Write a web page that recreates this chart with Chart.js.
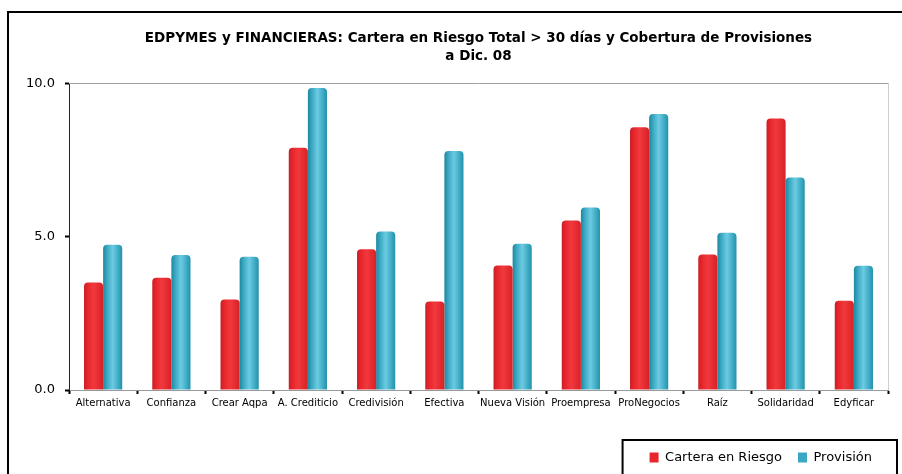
<!DOCTYPE html>
<html>
<head>
<meta charset="utf-8">
<script src="https://cdn.jsdelivr.net/npm/chart.js@4/dist/chart.umd.min.js"></script>
<style>
  html, body { margin: 0; padding: 0; background: #fff; overflow: hidden; }
  #wrap { width: 902px; height: 474px; position: relative; }
</style>
</head>
<body>
<div id="wrap"><canvas id="c" width="902" height="474"></canvas></div>
<script>
const categories = ['Alternativa', 'Confianza', 'Crear Aqpa', 'A. Crediticio', 'Credivisión', 'Efectiva',
  'Nueva Visión', 'Proempresa', 'ProNegocios', 'Raíz', 'Solidaridad', 'Edyficar'];
const carteraEnRiesgo = [3.51, 3.66, 2.95, 7.90, 4.59, 2.89, 4.06, 5.53, 8.57, 4.42, 8.86, 2.91];
const provision = [4.74, 4.40, 4.35, 9.85, 5.17, 7.80, 4.77, 5.95, 9.00, 5.13, 6.93, 4.05];
const yTicks = [0, 5, 10];
const seriesNames = ['Cartera en Riesgo', 'Provisión'];
const titleLines = ['EDPYMES y FINANCIERAS: Cartera en Riesgo Total > 30 días y Cobertura de Provisiones', 'a Dic. 08'];

const RED = ['#c81f26', '#e8262c', '#f0393d', '#e32a2f', '#d42228'];
const BLUE = ['#1d879e', '#3aa8c2', '#6ccbe2', '#3eaac4', '#2392ab'];

const cylinderPlugin = {
  id: 'cylinder',
  beforeDatasetsDraw(chart) {
    const ctx = chart.ctx;
    chart.data.datasets.forEach((ds, di) => {
      const meta = chart.getDatasetMeta(di);
      const stops = di === 0 ? RED : BLUE;
      meta.data.forEach(bar => {
        const p = bar.getProps(['x', 'width'], true);
        const g = ctx.createLinearGradient(p.x - p.width / 2, 0, p.x + p.width / 2, 0);
        g.addColorStop(0, stops[0]);
        g.addColorStop(0.2, stops[1]);
        g.addColorStop(0.5, stops[2]);
        g.addColorStop(0.8, stops[3]);
        g.addColorStop(1, stops[4]);
        bar.options.backgroundColor = g;
      });
    });
  }
};

const framePlugin = {
  id: 'frame',
  beforeDatasetsDraw(chart) {
    const ctx = chart.ctx;
    const a = chart.chartArea;
    ctx.save();
    ctx.strokeStyle = '#a0a0a0';
    ctx.lineWidth = 1;
    ctx.beginPath();
    ctx.moveTo(a.left, Math.round(a.top) + 0.5);
    ctx.lineTo(a.right, Math.round(a.top) + 0.5);
    ctx.stroke();
    ctx.setLineDash([1, 1]);
    ctx.beginPath();
    ctx.moveTo(Math.round(a.right) + 0.5, a.top);
    ctx.lineTo(Math.round(a.right) + 0.5, a.bottom);
    ctx.stroke();
    ctx.restore();
  },
  afterDraw(chart) {
    const ctx = chart.ctx;
    ctx.save();
    ctx.strokeStyle = '#000';
    ctx.lineWidth = 2;
    ctx.beginPath();
    ctx.moveTo(8, 480);
    ctx.lineTo(8, 12);
    ctx.lineTo(910, 12);
    ctx.stroke();
    const lg = chart.legend;
    if (lg && lg.legendHitBoxes && lg.legendHitBoxes.length) {
      const hb = lg.legendHitBoxes;
      const left = hb[0].left - 27;
      const right = 897;
      ctx.beginPath();
      ctx.moveTo(left, 480);
      ctx.lineTo(left, 440);
      ctx.lineTo(right, 440);
      ctx.lineTo(right, 480);
      ctx.stroke();
    }
    ctx.restore();
  }
};

new Chart(document.getElementById('c'), {
  type: 'bar',
  data: {
    labels: categories,
    datasets: [
      { label: seriesNames[0], data: carteraEnRiesgo, backgroundColor: () => '#e8262c', borderWidth: 0,
        borderRadius: { topLeft: 4, topRight: 4, bottomLeft: 0, bottomRight: 0 }, borderSkipped: false },
      { label: seriesNames[1], data: provision, backgroundColor: () => '#3aa8c2', borderWidth: 0,
        borderRadius: { topLeft: 4, topRight: 4, bottomLeft: 0, bottomRight: 0 }, borderSkipped: false }
    ]
  },
  options: {
    responsive: false,
    animation: false,
    categoryPercentage: 0.56,
    barPercentage: 1.0,
    layout: { padding: { left: 0, right: 14, top: 0, bottom: 0 } },
    plugins: {
      tooltip: { enabled: false },
      title: {
        display: true,
        text: titleLines,
        fullSize: false,
        color: '#000',
        font: { family: 'DejaVu Sans', size: 13.5, weight: 'bold', lineHeight: 1.35 },
        padding: { top: 29, bottom: 18 }
      },
      legend: {
        display: true,
        position: 'bottom',
        align: 'end',
        fullSize: false,
        labels: {
          color: '#000',
          font: { family: 'DejaVu Sans', size: 13 },
          boxWidth: 9,
          boxHeight: 10,
          padding: 16,
          generateLabels(chart) {
            return chart.data.datasets.map((ds, i) => ({
              text: ds.label,
              fillStyle: i === 0 ? '#e8262c' : '#3aa8c2',
              strokeStyle: 'transparent',
              lineWidth: 0,
              datasetIndex: i,
              hidden: false
            }));
          }
        }
      }
    },
    scales: {
      x: {
        offset: true,
        afterFit(s) { s.height = 45; },
        grid: { display: true, drawOnChartArea: false, drawTicks: true, tickLength: 4, tickColor: '#000', tickWidth: 2, offset: true },
        border: { display: true, color: '#9a9a9a', width: 1 },
        ticks: { color: '#000', font: { family: 'DejaVu Sans', size: 10 }, padding: 3, maxRotation: 0, autoSkip: false }
      },
      y: {
        min: 0,
        max: 10,
        afterFit(s) { s.width = 69; },
        afterBuildTicks(s) { s.ticks = yTicks.map(v => ({ value: v })); },
        grid: { drawOnChartArea: false, tickColor: '#000', tickLength: 4, tickWidth: 2 },
        border: { display: true, color: '#222', width: 1, dash: [1, 1] },
        ticks: { color: '#000', font: { family: 'DejaVu Sans', size: 13 }, padding: 10, callback: (v) => Number(v).toFixed(1) }
      }
    }
  },
  plugins: [cylinderPlugin, framePlugin]
});
</script>
</body>
</html>
